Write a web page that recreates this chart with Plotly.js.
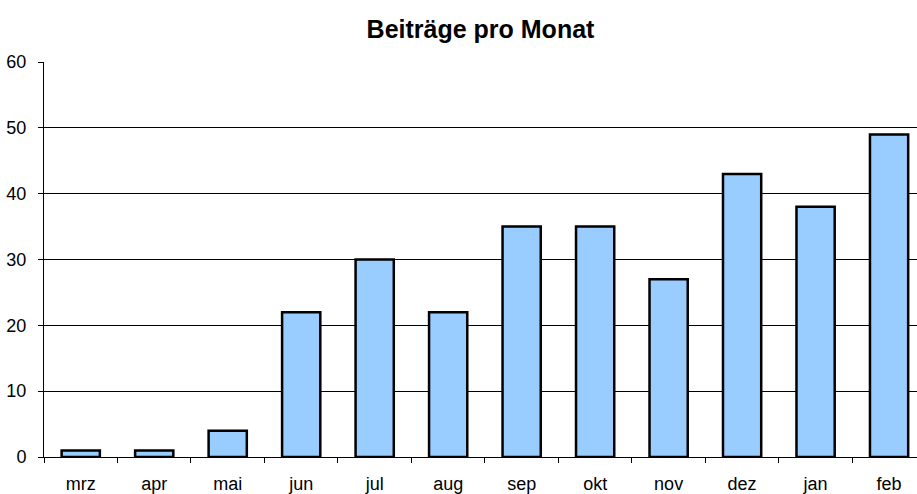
<!DOCTYPE html>
<html>
<head>
<meta charset="utf-8">
<script src="https://cdn.plot.ly/plotly-3.0.1.min.js"></script>
<style>html,body{margin:0;padding:0;background:#fff;}#chart{width:917px;height:494px;}</style>
</head>
<body>
<div id="chart"></div>
<script>
const months = ["mrz","apr","mai","jun","jul","aug","sep","okt","nov","dez","jan","feb"];
const posts = [1,1,4,22,30,22,35,35,27,43,38,49];
const yTicks = [0,10,20,30,40,50,60];

Plotly.newPlot("chart", [{
  type: "bar",
  x: months,
  y: posts,
  width: 0.52,
  marker: {color: "#99CCFF", line: {color: "#000000", width: 2.5}},
  hoverinfo: "none"
}], {
  width: 917, height: 494,
  margin: {l: 44, r: 0, t: 62, b: 37},
  paper_bgcolor: "#ffffff",
  plot_bgcolor: "#ffffff",
  font: {family: "Liberation Sans, Arial, sans-serif", size: 18, color: "#000"},
  title: {text: "<b>Beiträge pro Monat</b>", font: {size: 25, family: "Liberation Sans, Arial, sans-serif", color: "#000"}, x: 0.5, xref: "paper", y: 0.941, yref: "container", yanchor: "middle"},
  xaxis: {
    type: "category",
    range: [-0.5, 11.38],
    tickson: "boundaries",
    ticks: "outside", ticklen: 5, tickcolor: "#000", tickwidth: 1,
    showline: true, linecolor: "#000", linewidth: 1,
    showgrid: false, zeroline: false,
    tickfont: {size: 18},
    ticklabelstandoff: 10
  },
  yaxis: {
    range: [0, 60],
    tickvals: yTicks,
    ticks: "outside", ticklen: 5, tickcolor: "#000",
    showline: true, linecolor: "#000", linewidth: 1,
    showgrid: true, gridcolor: "#000", gridwidth: 1,
    zeroline: false,
    tickfont: {size: 18},
    ticklabelstandoff: 8
  },
  showlegend: false
}, {staticPlot: true, displayModeBar: false});
</script>
</body>
</html>
